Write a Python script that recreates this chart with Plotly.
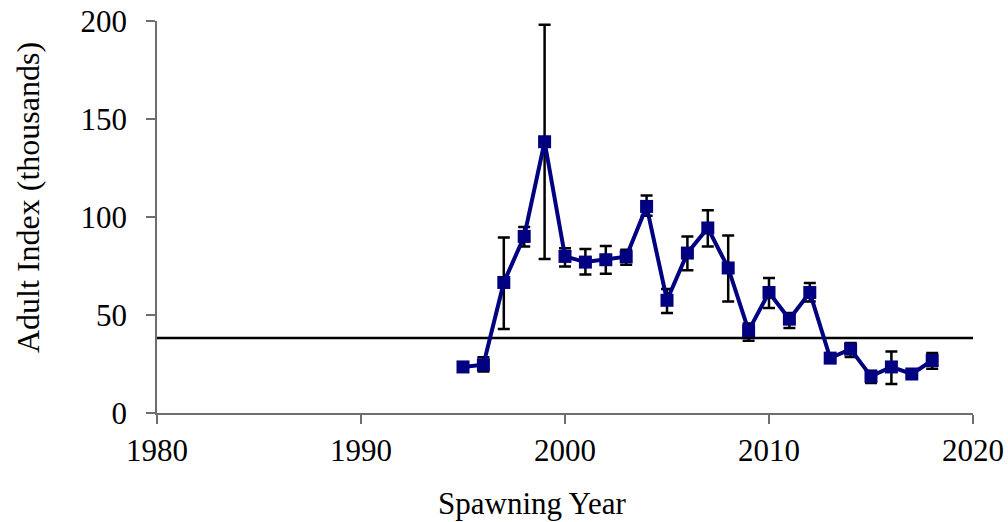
import plotly.graph_objects as go

years = list(range(1995, 2019))
adult_index = [23.5, 24.6, 66.6, 90.1, 138.4, 79.9, 77.0, 78.2, 79.7, 105.4, 57.5, 81.6,
               94.4, 74.0, 42.0, 61.5, 47.9, 61.5, 28.0, 32.6, 18.7, 23.5, 19.9, 26.8]
err_up = [1.0, 3.8, 23.0, 4.8, 59.7, 4.1, 6.7, 7.0, 3.6, 5.6, 5.8, 8.5,
          9.0, 16.5, 3.6, 7.4, 3.1, 4.8, 1.5, 3.1, 2.9, 7.9, 1.5, 3.8]
err_down = [1.0, 3.4, 23.8, 5.1, 59.8, 5.1, 6.4, 7.1, 4.0, 4.7, 6.5, 8.8,
            9.4, 17.1, 5.1, 7.9, 4.5, 4.6, 1.5, 4.0, 3.4, 8.7, 1.5, 4.2]
threshold = 38.3
x_range = [1980, 2020]
y_range = [0, 200]

navy = '#000080'
axis_grey = '#6e6e6e'
font_family = 'Liberation Serif, Times New Roman, serif'

fig = go.Figure()

# reference level across the whole axis
fig.add_trace(go.Scatter(x=x_range, y=[threshold, threshold], mode='lines',
                         line=dict(color='black', width=2.5), hoverinfo='skip'))

fig.add_trace(go.Scatter(x=years, y=adult_index, mode='lines+markers',
                         line=dict(color=navy, width=4),
                         marker=dict(symbol='square', size=13, color=navy),
                         error_y=dict(type='data', array=err_up, arrayminus=err_down,
                                      color='black', thickness=2.5, width=6)))

fig.update_layout(width=1008, height=522,
                  margin=dict(l=157, r=35, t=21, b=109),
                  paper_bgcolor='white', plot_bgcolor='white',
                  showlegend=False,
                  font=dict(family=font_family, size=31, color='black'),
                  annotations=[
                      dict(text='Spawning Year', xref='paper', yref='paper',
                           x=(532 - 157) / 816, y=-(503 - 413) / 392,
                           xanchor='center', yanchor='middle', showarrow=False,
                           font=dict(size=31)),
                      dict(text='Adult Index (thousands)', xref='paper', yref='paper',
                           x=-(157 - 28) / 816, y=(413 - 198) / 392, textangle=-90,
                           xanchor='center', yanchor='middle', showarrow=False,
                           font=dict(size=32)),
                  ])

fig.update_xaxes(range=x_range, tickvals=[1980, 1990, 2000, 2010, 2020],
                 showgrid=False, zeroline=False, showline=True, linecolor=axis_grey,
                 linewidth=1.5, ticks='outside', ticklen=9, tickwidth=1.5,
                 tickcolor=axis_grey, automargin=False, ticklabeloverflow='allow')
fig.update_yaxes(range=y_range, tickvals=[0, 50, 100, 150, 200],
                 showgrid=False, zeroline=False, showline=True, linecolor=axis_grey,
                 linewidth=1.5, ticks='outside', ticklen=9, tickwidth=1.5,
                 tickcolor=axis_grey, ticklabelstandoff=13, automargin=False,
                 ticklabeloverflow='allow')

# drop the default 8px page margin so the figure fills the window
fig.write_html("out.html", config={'displayModeBar': False},
               post_script="document.body.style.margin = '0';")
